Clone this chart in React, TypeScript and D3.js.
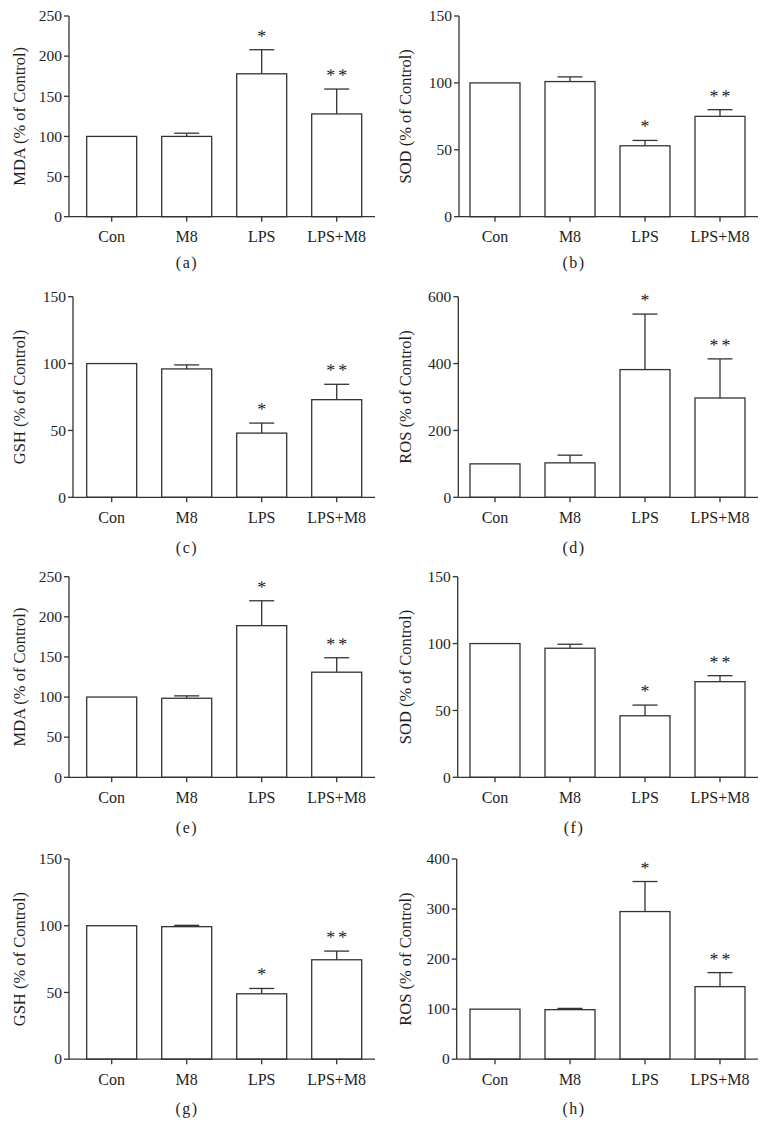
import React from "react";
import * as d3 from "d3";

const categories = ["Con", "M8", "LPS", "LPS+M8"];
const significance = ["", "", "*", "**"];

const mdaA = [100, 100, 178, 128];
const mdaAErr = [0, 4, 30, 31];
const sodB = [100, 101, 53, 75];
const sodBErr = [0, 3.5, 4, 5];
const gshC = [100, 96, 48, 73];
const gshCErr = [0, 3, 7.5, 11.5];
const rosD = [100, 103, 382, 297];
const rosDErr = [0, 23, 166, 117];
const mdaE = [100, 98.5, 189, 131];
const mdaEErr = [0, 3, 31, 18];
const sodF = [100, 96.5, 46, 71.5];
const sodFErr = [0, 3, 8, 4.5];
const gshG = [100, 99.3, 49, 74.5];
const gshGErr = [0, 1, 4, 6.5];
const rosH = [100, 99, 295, 145];
const rosHErr = [0, 2.5, 60, 28];

const panels = [
  { id: "(a)", label: "MDA (% of Control)", values: mdaA, errors: mdaAErr, max: 250, step: 50 },
  { id: "(b)", label: "SOD (% of Control)", values: sodB, errors: sodBErr, max: 150, step: 50 },
  { id: "(c)", label: "GSH (% of Control)", values: gshC, errors: gshCErr, max: 150, step: 50 },
  { id: "(d)", label: "ROS (% of Control)", values: rosD, errors: rosDErr, max: 600, step: 200 },
  { id: "(e)", label: "MDA (% of Control)", values: mdaE, errors: mdaEErr, max: 250, step: 50 },
  { id: "(f)", label: "SOD (% of Control)", values: sodF, errors: sodFErr, max: 150, step: 50 },
  { id: "(g)", label: "GSH (% of Control)", values: gshG, errors: gshGErr, max: 150, step: 50 },
  { id: "(h)", label: "ROS (% of Control)", values: rosH, errors: rosHErr, max: 400, step: 100 },
];

// layout (pixels)
const rowTop = [16, 296.7, 576.7, 859];
const rowZero = [216.7, 497.3, 777.3, 1059.2];
const rowPanelLabel = [268, 553, 833, 1114];
const axisXByPanel = [69, 459, 73, 458.3, 69, 457.7, 69, 456.7];
const colAxisRight = [375, 758];
const colBandStart = [74.2, 457.5];
const colYLabelX = [19, 405];
const colPanelLabelX = [187, 574];

const LINE = "#333";
const TEXT = "#1e1e1e";
const FONT = "'Liberation Serif', 'Times New Roman', serif";

function Panel({ p, i }: { p: any; i: number }) {
  const row = Math.floor(i / 2);
  const col = i % 2;
  const top = rowTop[row];
  const zero = rowZero[row];
  const ax = axisXByPanel[i];
  const x = d3
    .scaleBand<string>()
    .domain(categories)
    .range([colBandStart[col], colBandStart[col] + 300])
    .paddingInner(1 / 3)
    .paddingOuter(1 / 6);
  const y = d3.scaleLinear().domain([0, p.max]).range([zero, top]);
  const ticks = d3.range(0, p.max + 1, p.step);
  const bw = x.bandwidth();
  return (
    <g>
      {categories.map((c, k) => (
        <rect
          key={c}
          x={x(c)}
          y={y(p.values[k])}
          width={bw}
          height={y(0) - y(p.values[k])}
          fill="#fff"
          stroke={LINE}
          strokeWidth={1.3}
        />
      ))}
      {categories.map((c, k) => {
        const e = p.errors[k];
        if (!e) return null;
        const cx = (x(c) as number) + bw / 2;
        const yt = y(p.values[k] + e);
        return (
          <g key={"e" + c} stroke={LINE} strokeWidth={1.3}>
            <line x1={cx} x2={cx} y1={y(p.values[k])} y2={yt} />
            <line x1={cx - bw / 4} x2={cx + bw / 4} y1={yt} y2={yt} />
          </g>
        );
      })}
      {categories.map((c, k) => {
        const s = significance[k];
        if (!s) return null;
        const cx = (x(c) as number) + bw / 2;
        const yt = y(p.values[k] + p.errors[k]);
        return (
          <text
            key={"s" + c}
            x={cx + (s.length > 1 ? 1.5 : 0)}
            y={yt - 8}
            textAnchor="middle"
            fontFamily={FONT}
            fontSize={18}
            letterSpacing={s.length > 1 ? 3 : 0}
            fill={TEXT}
            style={{ textRendering: "geometricPrecision" }}
          >
            {s}
          </text>
        );
      })}
      <line x1={ax} x2={ax} y1={top} y2={zero} stroke={LINE} strokeWidth={1.3} />
      {ticks.map((t: number) => (
        <g key={"t" + t}>
          <line x1={ax - 5} x2={ax} y1={y(t)} y2={y(t)} stroke={LINE} strokeWidth={1.3} />
          <text
            x={ax - 7}
            y={y(t)}
            dy="0.34em"
            textAnchor="end"
            fontFamily={FONT}
            fontSize={15.5}
            fill={TEXT}
          >
            {t}
          </text>
        </g>
      ))}
      <line x1={ax} x2={colAxisRight[col]} y1={zero} y2={zero} stroke={LINE} strokeWidth={1.3} />
      {categories.map((c) => {
        const cx = (x(c) as number) + bw / 2;
        return (
          <g key={"x" + c}>
            <line x1={cx} x2={cx} y1={zero} y2={zero + 5} stroke={LINE} strokeWidth={1.3} />
            <text
              x={cx}
              y={zero + 25.5}
              textAnchor="middle"
              fontFamily={FONT}
              fontSize={16}
              fill={TEXT}
            >
              {c}
            </text>
          </g>
        );
      })}
      <text
        transform={`translate(${colYLabelX[col]},${(top + zero) / 2}) rotate(-90)`}
        textAnchor="middle"
        dy="0.35em"
        fontFamily={FONT}
        fontSize={16.5}
        fill={TEXT}
      >
        {p.label}
      </text>
      <text
        x={colPanelLabelX[col]}
        y={rowPanelLabel[row]}
        textAnchor="middle"
        fontFamily={FONT}
        fontSize={16}
        letterSpacing={1.5}
        fill={TEXT}
      >
        {p.id}
      </text>
    </g>
  );
}

export default function App() {
  return (
    <svg
      width={769}
      height={1144}
      style={{ position: "absolute", left: 0, top: 0, background: "#fff" }}
    >
      <rect width={769} height={1144} fill="#fff" />
      {panels.map((p, i) => (
        <Panel key={p.id} p={p} i={i} />
      ))}
    </svg>
  );
}
